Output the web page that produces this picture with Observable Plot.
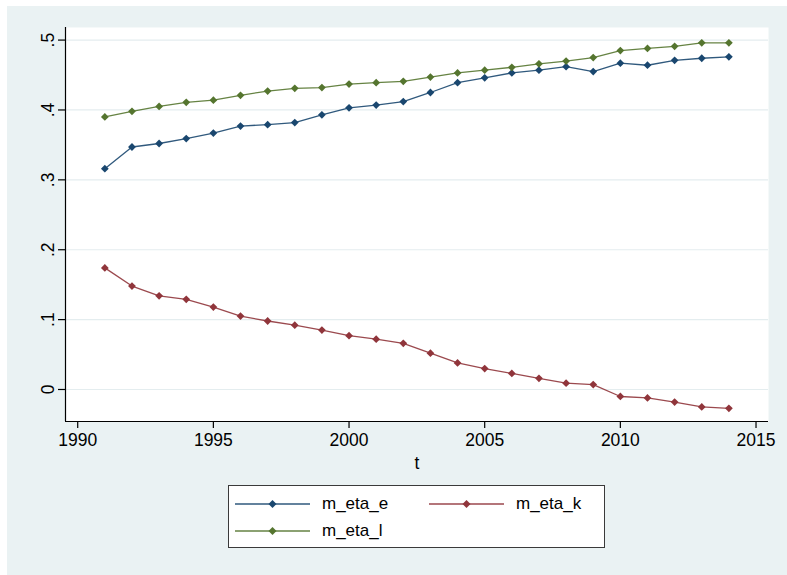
<!DOCTYPE html>
<html><head><meta charset="utf-8">
<script src="https://cdn.jsdelivr.net/npm/d3@7"></script>
<script src="https://cdn.jsdelivr.net/npm/@observablehq/plot@0.6"></script>
<style>
body{margin:0;background:#fff;font-family:"Liberation Sans",Arial,sans-serif;}
#wrap{position:relative;width:787px;height:575px;overflow:hidden;}
#panel{position:absolute;left:7px;top:6px;width:780px;height:569px;background:#eaf2f3;}
#chart{position:absolute;left:0;top:0;}
#legend{position:absolute;left:228px;top:485px;width:375px;height:61px;border:1.5px solid #3a3a3a;background:#fff;}
.item{position:absolute;display:flex;align-items:center;font-size:17px;color:#000;height:20px;}
.item svg{margin-right:12px;}
</style></head><body>
<div id="wrap"><div id="panel"></div><div id="chart"></div><div id="legend"></div></div>
<script>
const years = [1991,1992,1993,1994,1995,1996,1997,1998,1999,2000,2001,2002,2003,2004,2005,2006,2007,2008,2009,2010,2011,2012,2013,2014];
const m_eta_e = [0.316,0.347,0.352,0.359,0.367,0.377,0.379,0.382,0.393,0.403,0.407,0.412,0.425,0.439,0.446,0.453,0.457,0.462,0.455,0.467,0.464,0.471,0.474,0.476];
const m_eta_k = [0.174,0.148,0.134,0.129,0.118,0.105,0.098,0.092,0.085,0.077,0.072,0.066,0.052,0.038,0.030,0.023,0.016,0.009,0.007,-0.010,-0.012,-0.018,-0.025,-0.027];
const m_eta_l = [0.390,0.398,0.405,0.411,0.414,0.421,0.427,0.431,0.432,0.437,0.439,0.441,0.447,0.453,0.457,0.461,0.466,0.470,0.475,0.485,0.488,0.491,0.496,0.496];
const seriesNames = ["m_eta_e","m_eta_k","m_eta_l"];
const seriesColors = ["#1a476f","#90353b","#55752f"];
const xTicks = [1990,1995,2000,2005,2010,2015];
const yTicks = [0,0.1,0.2,0.3,0.4,0.5];
const yTickLabels = ["0",".1",".2",".3",".4",".5"];

const seriesValues = [m_eta_e, m_eta_k, m_eta_l];
const data = [];
seriesNames.forEach((s, i) => years.forEach((t, j) => data.push({t, v: seriesValues[i][j], s})));

const xDomain = [1989.55, 2015.46];
const yDomain = [-0.0458, 0.518];
const font = "'Liberation Sans', Arial, sans-serif";

const chart = Plot.plot({
  width: 787, height: 575,
  marginLeft: 65, marginRight: 19, marginTop: 27, marginBottom: 154,
  style: {background: "transparent", fontFamily: font, color: "#000"},
  x: {domain: xDomain},
  y: {domain: yDomain},
  color: {domain: seriesNames, range: seriesColors},
  marks: [
    Plot.frame({fill: "white", stroke: "none"}),
    Plot.gridY(yTicks, {stroke: "#e4edef", strokeOpacity: 1, strokeWidth: 1.2}),
    Plot.ruleX([xDomain[0]], {stroke: "#000", strokeWidth: 1.2}),
    Plot.ruleY([yDomain[0]], {stroke: "#000", strokeWidth: 1.2}),
    Plot.axisY(yTicks, {tickSize: 7, tickRotate: -90, fontSize: 17.5, tickPadding: 5,
      tickFormat: d => yTickLabels[yTicks.indexOf(d)], label: null, strokeWidth: 1.2}),
    Plot.axisX(xTicks, {tickSize: 7, fontSize: 17.5, tickPadding: 5, tickFormat: d => String(d),
      label: "t", labelAnchor: "center", labelOffset: 47, labelArrow: "none", strokeWidth: 1.2}),
    Plot.line(data, {x: "t", y: "v", z: "s", stroke: "s", strokeWidth: 1.3, strokeOpacity: 0.9}),
    Plot.dot(data, {x: "t", y: "v", fill: "s", symbol: "diamond2", r: 3.5, stroke: "none"})
  ]
});
document.getElementById("chart").appendChild(chart);

const legend = document.getElementById("legend");
const pos = [[6, 8], [200, 8], [6, 35]];
seriesNames.forEach((name, i) => {
  const div = document.createElement("div");
  div.className = "item";
  div.style.left = pos[i][0] + "px";
  div.style.top = pos[i][1] + "px";
  const c = seriesColors[i];
  div.innerHTML = `<svg width="75" height="12"><line x1="0" x2="75" y1="6" y2="6" stroke="${c}" stroke-width="1.3" opacity="0.9"/><path d="M37.5,2 L41.5,6 L37.5,10 L33.5,6 Z" fill="${c}"/></svg><span>${name}</span>`;
  legend.appendChild(div);
});
</script>
</body></html>
